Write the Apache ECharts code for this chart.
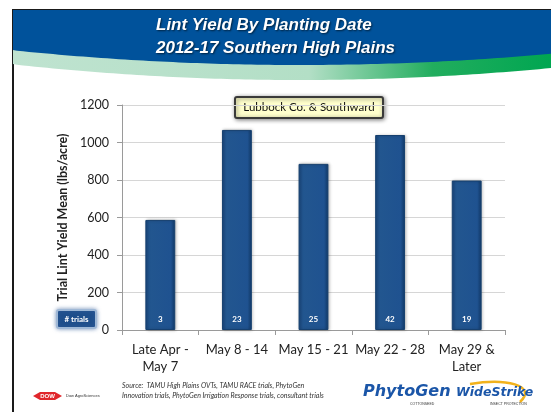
<!DOCTYPE html>
<html>
<head>
<meta charset="utf-8">
<script src="https://cdn.jsdelivr.net/npm/echarts@6/dist/echarts.min.js"></script>
<style>
  html, body { margin: 0; padding: 0; background: #fff; }
  #main { width: 551px; height: 412px; }
</style>
</head>
<body>
<div id="main"></div>
<script>
// data
var categories = ['Late Apr -\nMay 7', 'May 8 - 14', 'May 15 - 21', 'May 22 - 28', 'May 29 &\nLater'];
var yieldMean = [587, 1067, 886, 1040, 797];
var trialCounts = [3, 23, 25, 42, 19];
var yTicks = { min: 0, max: 1200, interval: 200 };

var W = 551;

// header swoosh outline (decoration only)
function bump(x) {
    var t = (x - 300) / 290;
    return Math.max(0, 1 - t * t);
}
var bluePts = [[13, 10], [W, 10]];
var greenPts = [];
for (var x = W; x >= 13; x -= 6) bluePts.push([x, 50 + 15 * bump(x)]);
bluePts.push([13, 50]);
for (var x2 = 13; x2 <= W; x2 += 6) greenPts.push([x2, 48 + 14 * bump(x2)]);
greenPts.push([W, 48 + 14 * bump(W)]);
for (var x3 = W; x3 >= 13; x3 -= 6) greenPts.push([x3, 64 + 16 * bump(x3)]);
greenPts.push([13, 64]);

var myChart = echarts.init(document.getElementById('main'));

myChart.setOption({
    animation: false,
    backgroundColor: '#ffffff',
    grid: { left: 122, right: 46, top: 105, bottom: 82 },
    xAxis: {
        type: 'category',
        data: categories,
        axisLine: { lineStyle: { color: '#9a9a9a', width: 1 } },
        axisTick: { show: true, length: 5, lineStyle: { color: '#9a9a9a' } },
        axisLabel: {
            interval: 0,
            margin: 11,
            color: '#222',
            fontFamily: 'Lato',
            fontSize: 13,
            lineHeight: 17
        }
    },
    yAxis: {
        type: 'value',
        min: yTicks.min,
        max: yTicks.max,
        interval: yTicks.interval,
        name: 'Trial Lint Yield Mean (lbs/acre)',
        nameLocation: 'middle',
        nameGap: 49,
        nameTextStyle: { color: '#222', fontFamily: 'Lato', fontWeight: 'bold', fontSize: 12.5 },
        axisLine: { show: true, lineStyle: { color: '#9a9a9a' } },
        axisTick: { show: true, length: 5, lineStyle: { color: '#9a9a9a' } },
        splitLine: { lineStyle: { color: '#d6d6d6' } },
        axisLabel: {
            color: '#222', fontFamily: 'Lato', fontSize: 12.5, margin: 13,
            formatter: function (v) { return String(v); }
        }
    },
    series: [{
        name: 'Lint yield',
        type: 'bar',
        data: yieldMean,
        barWidth: '39%',
        itemStyle: {
            color: new echarts.graphic.LinearGradient(0, 0, 1, 0, [
                { offset: 0, color: '#1a477f' },
                { offset: 0.15, color: '#22568f' },
                { offset: 0.85, color: '#1f5290' },
                { offset: 1, color: '#123a68' }
            ]),
            borderColor: '#16406f',
            borderWidth: 1,
            shadowColor: 'rgba(0,0,0,0.25)',
            shadowBlur: 3,
            shadowOffsetX: 1
        },
        label: {
            show: true,
            position: 'insideBottom',
            distance: 7,
            formatter: function (p) { return trialCounts[p.dataIndex]; },
            color: '#ffffff',
            fontFamily: 'Lato',
            fontWeight: 'bold',
            fontSize: 8
        }
    }],
    graphic: [
        // slide frame
        { type: 'rect', silent: true, shape: { x: 13, y: 10, width: W, height: 420 },
          style: { fill: 'none', stroke: '#1a1a1a', lineWidth: 2 } },
        { type: 'polygon', silent: true, shape: { points: greenPts },
          style: { fill: new echarts.graphic.LinearGradient(0, 0, 1, 0, [
              { offset: 0, color: '#bfe3d0' },
              { offset: 0.55, color: '#b3dfc6' },
              { offset: 0.78, color: '#22ad5e' },
              { offset: 1, color: '#00a651' }
          ]) } },
        { type: 'polygon', silent: true, shape: { points: bluePts },
          style: { fill: '#00529b' } },
        { type: 'text', silent: true, left: 'center', top: 14,
          style: {
              text: 'Lint Yield By Planting Date\n2012-17 Southern High Plains',
              x: 0, fill: '#ffffff', fontFamily: 'Liberation Sans', fontStyle: 'italic',
              fontWeight: 'bold', fontSize: 17, lineHeight: 23, align: 'center',
              textShadowColor: 'rgba(0,0,0,0.6)', textShadowBlur: 2, textShadowOffsetX: 1, textShadowOffsetY: 1
          } },
        // region callout
        { type: 'rect', silent: true, shape: { x: 235, y: 97, width: 148, height: 21, r: 2 },
          style: { fill: '#ffffcc', stroke: '#3a3a3a', lineWidth: 2,
                   shadowColor: 'rgba(0,0,0,0.45)', shadowBlur: 4, shadowOffsetX: 1, shadowOffsetY: 1 } },
        { type: 'text', silent: true, x: 309, y: 107.5,
          style: { text: 'Lubbock Co. & Southward', fill: '#111', fontFamily: 'Lato', fontSize: 11.5,
                   align: 'center', verticalAlign: 'middle' } },
        // "# trials" key
        { type: 'rect', silent: true, shape: { x: 57, y: 310, width: 39, height: 18, r: 2 },
          style: { fill: '#1f4f8c', stroke: '#9fb8d6', lineWidth: 2,
                   shadowColor: 'rgba(60,100,160,0.6)', shadowBlur: 4 } },
        { type: 'text', silent: true, x: 76.5, y: 319,
          style: { text: '# trials', fill: '#fff', fontFamily: 'Lato', fontWeight: 'bold', fontSize: 8,
                   align: 'center', verticalAlign: 'middle' } },
        // footer
        { type: 'polygon', silent: true, shape: { points: [[33, 396], [40, 392], [55, 392], [62, 396], [55, 400], [40, 400]] },
          style: { fill: '#e0262b' } },
        { type: 'text', silent: true, x: 47.5, y: 396,
          style: { text: 'DOW', fill: '#fff', fontFamily: 'Liberation Sans', fontWeight: 'bold', fontSize: 6,
                   align: 'center', verticalAlign: 'middle' } },
        { type: 'text', silent: true, x: 66, y: 396,
          style: { text: 'Dow AgroSciences', fill: '#333', fontFamily: 'Liberation Sans', fontSize: 4,
                   verticalAlign: 'middle' } },
        { type: 'text', silent: true, x: 122, y: 381,
          style: { text: 'Source:  TAMU High Plains OVTs, TAMU RACE trials, PhytoGen\nInnovation trials, PhytoGen Irrigation Response trials, consultant trials',
                   fill: '#333', fontFamily: 'Lato', fontStyle: 'italic', fontSize: 7, lineHeight: 10 } },
        { type: 'text', silent: true, x: 363, y: 384,
          style: { text: 'PhytoGen', fill: '#1b56a8', fontFamily: 'DejaVu Sans', fontStyle: 'italic',
                   fontWeight: 'bold', fontSize: 16 } },
        { type: 'text', silent: true, x: 410, y: 402,
          style: { text: 'COTTONSEED', fill: '#333', fontFamily: 'Liberation Sans', fontSize: 3.5 } },
        { type: 'bezierCurve', silent: true,
          shape: { x1: 470, y1: 384, cpx1: 505, cpy1: 378, cpx2: 538, cpy2: 385, x2: 520, y2: 402 },
          style: { stroke: '#f2b21c', lineWidth: 2.5, fill: 'none' } },
        { type: 'text', silent: true, x: 456, y: 386,
          style: { text: 'WideStrike', fill: '#1b56a8', fontFamily: 'DejaVu Sans', fontStyle: 'italic',
                   fontWeight: 'bold', fontSize: 12.5 } },
        { type: 'text', silent: true, x: 490, y: 402,
          style: { text: 'INSECT PROTECTION', fill: '#333', fontFamily: 'Liberation Sans', fontSize: 3.5 } }
    ]
});
</script>
</body>
</html>
